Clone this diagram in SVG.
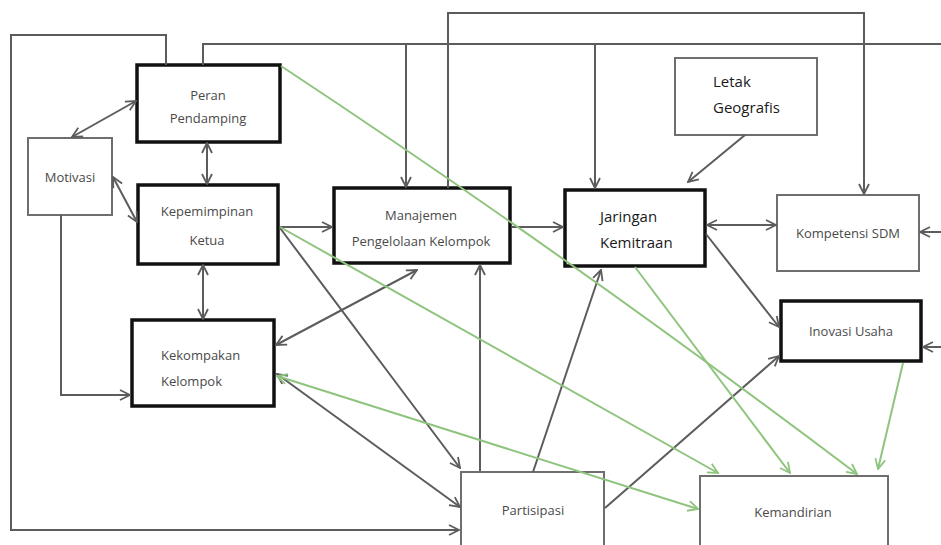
<svg xmlns="http://www.w3.org/2000/svg" width="941" height="545" viewBox="0 0 941 545">
<style>
.bg{fill:#fff}
.thick{fill:#fff;stroke:#111;stroke-width:3.5}
.thin{fill:#fff;stroke:#6e6e6e;stroke-width:2}
.t{font-family:"Open Sans","Liberation Sans",sans-serif;font-size:13px;fill:#4a4a4a}
.tb{font-family:"Open Sans","Liberation Sans",sans-serif;font-size:15px;fill:#1a1a1a}
.c{text-anchor:middle}
.d{fill:none;stroke:#5c5c5c;stroke-width:2}
.g{fill:none;stroke:#8fc47e;stroke-width:2}
.de{marker-end:url(#ad)}
.dse{marker-start:url(#ad);marker-end:url(#ad)}
.ge{marker-end:url(#ag)}
.gse{marker-start:url(#ag);marker-end:url(#ag)}
</style>
<defs>
<marker id="ad" viewBox="0 0 12 12" refX="11" refY="6" markerWidth="12" markerHeight="12" markerUnits="userSpaceOnUse" orient="auto-start-reverse"><path d="M1,1 L11,6 L1,11" fill="none" stroke="#5c5c5c" stroke-width="1.8"/></marker>
<marker id="ag" viewBox="0 0 12 12" refX="11" refY="6" markerWidth="12" markerHeight="12" markerUnits="userSpaceOnUse" orient="auto-start-reverse"><path d="M1,1 L11,6 L1,11" fill="none" stroke="#8fc47e" stroke-width="1.8"/></marker>
</defs>
<rect class="bg" x="0" y="0" width="941" height="545"/>
<g id="peran"><rect class="thick" x="137" y="65" width="143" height="77"/><text class="t c" x="208" y="100">Peran</text><text class="t c" x="208" y="123">Pendamping</text></g>
<g id="motivasi"><rect class="thin" x="28" y="138" width="84" height="77"/><text class="t c" x="70" y="182">Motivasi</text></g>
<g id="kepemimpinan"><rect class="thick" x="138" y="185" width="140" height="79"/><text class="t c" x="207" y="216">Kepemimpinan</text><text class="t c" x="207" y="245">Ketua</text></g>
<g id="kekompakan"><rect class="thick" x="132" y="320" width="142" height="86"/><text class="t" x="161" y="360">Kekompakan</text><text class="t" x="161" y="386">Kelompok</text></g>
<g id="manajemen"><rect class="thick" x="334" y="188" width="176" height="75"/><text class="t c" x="421" y="220">Manajemen</text><text class="t c" x="421" y="246">Pengelolaan Kelompok</text></g>
<g id="jaringan"><rect class="thick" x="565" y="190" width="140" height="76"/><text class="tb" x="600" y="222">Jaringan</text><text class="tb" x="600" y="248">Kemitraan</text></g>
<g id="letak"><rect class="thin" x="675" y="58" width="142" height="77"/><text class="tb" x="713" y="87">Letak</text><text class="tb" x="713" y="113">Geografis</text></g>
<g id="kompetensi"><rect class="thin" x="777" y="195" width="142" height="76"/><text class="t c" x="848" y="238">Kompetensi SDM</text></g>
<g id="inovasi"><rect class="thick" x="781" y="301" width="140" height="60"/><text class="t c" x="851" y="336">Inovasi Usaha</text></g>
<g id="partisipasi"><rect class="thin" x="461" y="472" width="143" height="80"/><text class="t c" x="533" y="515">Partisipasi</text></g>
<g id="kemandirian"><rect class="thin" x="700" y="476" width="188" height="76"/><text class="t c" x="793" y="517">Kemandirian</text></g>
<g id="connectors">
<polyline class="d de" points="166,65 166,35 11,35 11,530 459,530"/>
<polyline class="d" points="203,65 203,44 941,44"/>
<line class="d de" x1="406" y1="44" x2="406" y2="187"/>
<line class="d de" x1="595" y1="44" x2="595" y2="188"/>
<polyline class="d de" points="448,188 448,13 864,13 864,194"/>
<line class="d de" x1="941" y1="232" x2="920" y2="232"/>
<line class="d de" x1="941" y1="347" x2="923" y2="347"/>
<line class="d dse" x1="72" y1="137" x2="136" y2="101"/>
<line class="d dse" x1="207" y1="143" x2="207" y2="184"/>
<line class="d dse" x1="113" y1="177" x2="137" y2="222"/>
<polyline class="d de" points="61,215 61,395 130,395"/>
<line class="d dse" x1="203" y1="265" x2="203" y2="319"/>
<line class="d de" x1="280" y1="227" x2="332" y2="227"/>
<line class="d de" x1="512" y1="227" x2="563" y2="227"/>
<line class="d dse" x1="707" y1="225" x2="776" y2="225"/>
<line class="d de" x1="745" y1="135" x2="688" y2="182"/>
<line class="d de" x1="706" y1="234" x2="779" y2="327"/>
<line class="d de" x1="605" y1="508" x2="779" y2="356"/>
<line class="d de" x1="480" y1="471" x2="480" y2="265"/>
<line class="d de" x1="533" y1="472" x2="601" y2="270"/>
<line class="d dse" x1="417" y1="270" x2="276" y2="345"/>
<line class="d de" x1="280" y1="228" x2="460" y2="468"/>
<line class="d dse" x1="277" y1="374" x2="460" y2="507"/>
<path class="g ge" d="M281,66 Q560,250 857,474"/>
<line class="g ge" x1="280" y1="227" x2="718" y2="473"/>
<line class="g gse" x1="277" y1="376" x2="698" y2="509"/>
<line class="g ge" x1="635" y1="267" x2="790" y2="473"/>
<line class="g ge" x1="903" y1="363" x2="878" y2="469"/>
</g>
</svg>
